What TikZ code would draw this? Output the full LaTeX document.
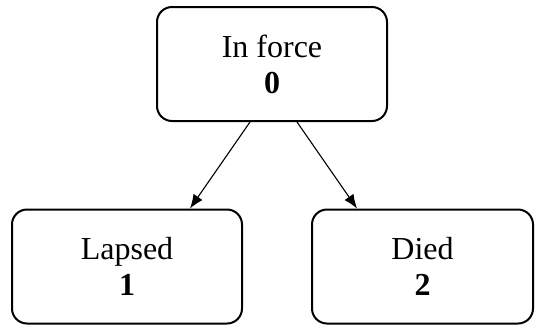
\documentclass[tikz,border=0pt]{standalone}
\usepackage{fontspec}
\setmainfont{Liberation Serif}
\usetikzlibrary{arrows.meta}
\begin{document}
\begin{tikzpicture}[x=1pt,y=-1pt,
	statebox/.style={draw,line width=2pt,rounded corners=15pt,minimum height=114pt,
		inner sep=0pt,align=center,font=\fontsize{32}{36}\selectfont},
	arr/.style={line width=1.1pt,-{Latex[length=14pt,width=11pt]}}]
	\useasboundingbox (0,0) rectangle (535,325);
	\node [statebox,minimum width=230pt] (inforce) at (272,64) {In force\\\textbf{0}};
	\node [statebox,minimum width=230pt] (lapsed) at (127,266.5) {Lapsed\\\textbf{1}};
	\node [statebox,minimum width=221pt] (died) at (422.5,266.5) {Died\\\textbf{2}};

	\draw [arr] ([xshift=-22pt]inforce.south) -- ([xshift=63pt]lapsed.north);
	\draw [arr] ([xshift=25pt]inforce.south) -- ([xshift=-65.5pt]died.north);
\end{tikzpicture}
\end{document}
